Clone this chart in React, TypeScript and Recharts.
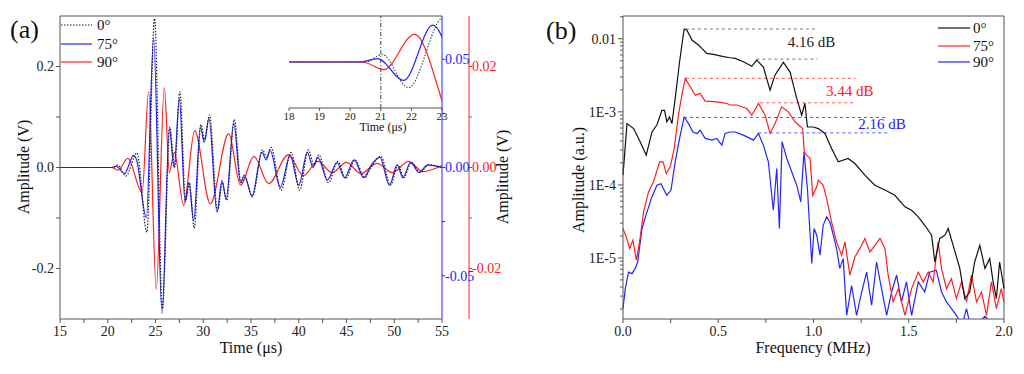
import React from "react";
import { LineChart, Line, XAxis, YAxis, ReferenceLine, ReferenceDot } from "recharts";

// (a) time signals, t in µs; each angle is plotted against its own axis (V)
const t0 = [15, 20.5, 21.05, 21.9, 23.05, 24.1, 24.9, 25.72, 26.5, 27.0, 27.55, 28.15, 28.55, 29.05, 29.75, 30.15, 30.65, 31.5, 32.0, 32.45, 33.25, 33.95, 34.35, 35.15, 36.2, 36.65, 37.1, 38.15, 39.2, 40.1, 41.0, 41.6, 42.1, 43.1, 44.1, 44.9, 45.9, 46.9, 47.7, 48.6, 49.6, 50.4, 51.0, 51.8, 52.7, 53.6, 55];
const v0 = [0, 0, 0.0049, -0.0168, 0.029, -0.128, 0.295, -0.28, 0.08, 0.0, 0.15, -0.065, -0.03, -0.12, 0.085, 0.055, 0.104, -0.085, -0.03, -0.065, 0.095, -0.03, -0.02, -0.058, 0.035, 0.02, 0.04, -0.045, 0.03, -0.045, 0.035, 0.005, 0.025, -0.03, 0.012, -0.022, 0.015, -0.02, 0.005, 0.022, -0.035, 0.005, -0.02, 0.01, -0.01, 0.005, 0];

const t75 = [15, 20.3, 20.9, 21.75, 22.7, 23.0, 24.04, 24.8, 25.68, 26.45, 26.95, 27.5, 28.1, 28.5, 29.0, 29.7, 30.1, 30.6, 31.44, 31.96, 32.4, 33.2, 33.9, 34.3, 35.1, 36.15, 36.6, 37.0, 38.07, 39.1, 40.0, 40.9, 41.5, 42.0, 43.0, 44.0, 44.8, 45.8, 46.8, 47.6, 48.5, 49.5, 50.3, 50.9, 51.7, 52.6, 53.5, 55];
const v75 = [0, 0, 0.0005, -0.0028, 0.0056, 0.0038, -0.0231, 0.0597, -0.0676, 0.018, 0, 0.0317, -0.0161, -0.007, -0.0245, 0.0186, 0.0117, 0.0226, -0.0207, -0.0061, -0.0145, 0.0205, -0.007, -0.0035, -0.0131, 0.007, 0.0035, 0.0079, -0.0091, 0.0056, -0.0082, 0.007, 0, 0.0047, -0.0058, 0.0023, -0.0047, 0.0035, -0.0047, 0.0012, 0.0047, -0.0082, 0.0012, -0.0047, 0.0023, -0.0023, 0.0012, 0];

const t90 = [15, 20.4, 21.1, 22.1, 23.6, 24.28, 25.08, 25.92, 26.45, 26.97, 27.95, 29.1, 30.74, 32.66, 33.9, 35.3, 36.85, 38.9, 40.5, 42.0, 43.5, 45.0, 46.5, 48.2, 49.8, 51.5, 53.0, 55];
const v90 = [0, 0, -0.0005, 0.0018, -0.0049, 0.015, -0.0241, 0.0158, -0.001, 0.003, -0.0075, 0.0073, -0.0072, 0.0067, -0.0035, 0.0022, -0.0032, 0.0025, -0.0016, 0.0012, -0.001, 0.001, -0.0012, 0.0008, -0.001, 0.0012, -0.0008, 0.0004];

const timeTicks = [15, 17.5, 20, 22.5, 25, 27.5, 30, 32.5, 35, 37.5, 40, 42.5, 45, 47.5, 50, 52.5, 55];
const insetTicks = [18, 19, 20, 21, 22, 23];

// (b) spectra, f in MHz
const f0 = [0, 0.021, 0.056, 0.09, 0.122, 0.152, 0.178, 0.204, 0.218, 0.23, 0.244, 0.257, 0.274, 0.297, 0.321, 0.335, 0.362, 0.396, 0.414, 0.44, 0.475, 0.527, 0.562, 0.589, 0.632, 0.676, 0.702, 0.737, 0.772, 0.798, 0.842, 0.877, 0.912, 0.938, 0.955, 0.968, 0.999, 1.025, 1.06, 1.095, 1.13, 1.182, 1.217, 1.27, 1.322, 1.375, 1.427, 1.48, 1.515, 1.55, 1.584, 1.62, 1.637, 1.663, 1.69, 1.707, 1.733, 1.768, 1.794, 1.82, 1.846, 1.873, 1.9, 1.925, 1.943, 1.96, 1.977, 2.0];
const a0 = [1.36e-4, 6.9e-4, 5.9e-4, 3.9e-4, 2.55e-4, 5.3e-4, 6.6e-4, 1.05e-3, 1.05e-3, 7.3e-4, 8.5e-4, 6.9e-4, 1.53e-3, 4.84e-3, 1.36e-2, 1.32e-2, 9.6e-3, 8.2e-3, 7.4e-3, 6.3e-3, 6.1e-3, 5.7e-3, 5.5e-3, 5.4e-3, 4.84e-3, 4.2e-3, 5.1e-3, 4.1e-3, 1.98e-3, 3.2e-3, 4.75e-3, 3.5e-3, 1.53e-3, 9.0e-4, 1.31e-3, 6.2e-4, 6.2e-4, 5.9e-4, 5.06e-4, 3.15e-4, 2.07e-4, 2.3e-4, 1.96e-4, 1.36e-4, 9.9e-5, 8.5e-5, 7.2e-5, 5.0e-5, 4.5e-5, 3.65e-5, 2.8e-5, 2.05e-5, 8.8e-6, 1.85e-5, 2.05e-5, 2.53e-5, 1.49e-5, 7.2e-6, 2.78e-6, 3.42e-6, 8.8e-6, 1.49e-5, 7.2e-6, 9.8e-6, 4.7e-6, 2.78e-6, 8.8e-6, 3.8e-6];

const f75 = [0, 0.017, 0.035, 0.052, 0.07, 0.087, 0.108, 0.134, 0.16, 0.192, 0.21, 0.227, 0.248, 0.269, 0.291, 0.309, 0.327, 0.353, 0.379, 0.405, 0.431, 0.475, 0.51, 0.545, 0.562, 0.597, 0.65, 0.676, 0.711, 0.746, 0.772, 0.798, 0.833, 0.868, 0.903, 0.943, 0.952, 0.964, 0.982, 0.996, 1.017, 1.025, 1.051, 1.069, 1.095, 1.121, 1.148, 1.165, 1.191, 1.217, 1.244, 1.27, 1.296, 1.322, 1.349, 1.375, 1.392, 1.418, 1.445, 1.48, 1.515, 1.55, 1.576, 1.602, 1.628, 1.654, 1.672, 1.698, 1.724, 1.75, 1.777, 1.803, 1.829, 1.856, 1.882, 1.908, 1.934, 1.96, 1.986, 2.0];
const a75 = [2.53e-5, 1.94e-5, 1.35e-5, 1.75e-5, 9.3e-6, 1.66e-5, 4.27e-5, 8.0e-5, 1.1e-4, 2.07e-4, 2.07e-4, 1.43e-4, 1.77e-4, 3.15e-4, 9.0e-4, 1.69e-3, 2.87e-3, 2.2e-3, 1.69e-3, 1.79e-3, 1.4e-3, 1.38e-3, 1.35e-3, 1.3e-3, 1.24e-3, 1.24e-3, 1.11e-3, 9.0e-4, 1.3e-3, 9.0e-4, 5.06e-4, 6.9e-4, 1.17e-3, 1.0e-3, 7.3e-4, 5.9e-4, 2.83e-4, 2.55e-4, 2.3e-4, 7.2e-5, 9.4e-5, 1.16e-4, 9.9e-5, 6.5e-5, 3.1e-5, 1.66e-5, 1.09e-5, 1.66e-5, 5.8e-6, 1.03e-5, 1.35e-5, 1.85e-5, 1.21e-5, 1.49e-5, 1.85e-5, 1.35e-5, 5.8e-6, 2.5e-6, 3.8e-6, 1.64e-6, 3.8e-6, 6.4e-6, 4.7e-6, 6.4e-6, 4.7e-6, 1.66e-5, 7.2e-6, 3.8e-6, 5.2e-6, 2.78e-6, 4.7e-6, 2.5e-6, 5.8e-6, 2.5e-6, 3.42e-6, 1.64e-6, 4.7e-6, 2.03e-6, 3.8e-6, 2.5e-6];

const f90 = [0, 0.012, 0.029, 0.047, 0.064, 0.077, 0.1, 0.126, 0.152, 0.178, 0.199, 0.23, 0.252, 0.274, 0.297, 0.321, 0.344, 0.367, 0.388, 0.405, 0.431, 0.466, 0.492, 0.519, 0.536, 0.562, 0.589, 0.632, 0.685, 0.711, 0.737, 0.763, 0.789, 0.807, 0.821, 0.835, 0.86, 0.886, 0.912, 0.933, 0.95, 0.968, 0.991, 1.003, 1.017, 1.034, 1.051, 1.069, 1.086, 1.104, 1.121, 1.138, 1.156, 1.174, 1.2, 1.226, 1.253, 1.279, 1.305, 1.331, 1.357, 1.384, 1.41, 1.436, 1.462, 1.488, 1.515, 1.55, 1.584, 1.61, 1.645, 1.672, 1.698, 1.724, 1.75, 1.78, 1.803, 1.83, 1.87, 1.9, 1.95, 2.0];
const a90 = [2.03e-6, 3.8e-6, 6.4e-6, 6.1e-6, 7.2e-6, 8.8e-6, 2.53e-5, 4.27e-5, 6.85e-5, 9.9e-5, 1.04e-4, 7.2e-5, 8.5e-5, 2.07e-4, 4.33e-4, 8.5e-4, 6.9e-4, 5.3e-4, 5.06e-4, 5.6e-4, 4.33e-4, 4.1e-4, 4.33e-4, 3.5e-4, 5.06e-4, 5.3e-4, 5.3e-4, 4.8e-4, 4.1e-4, 5.06e-4, 3.5e-4, 2.07e-4, 4.5e-5, 1.68e-4, 2.53e-5, 3.9e-4, 2.3e-4, 1.5e-4, 9.9e-5, 5.85e-5, 2.83e-4, 8.9e-5, 8.4e-6, 2.53e-5, 2.05e-5, 1.09e-5, 2.8e-5, 3.65e-5, 3.1e-5, 2.05e-5, 1.35e-5, 7.2e-6, 9.8e-6, 1.64e-6, 4.2e-6, 1.64e-6, 3.42e-6, 6.4e-6, 2.25e-6, 8.8e-6, 3.8e-6, 1.64e-6, 3.42e-6, 5.8e-6, 2.5e-6, 4.7e-6, 1.64e-6, 4.7e-6, 3.42e-6, 6.4e-6, 6.8e-6, 3.42e-6, 2.5e-6, 2.03e-6, 1.64e-6, 1.2e-6, 2.03e-6, 1.0e-6, 1.3e-6, 1.6e-6, 1.1e-6, 1.2e-6];

const freqTicks = [0, 0.25, 0.5, 0.75, 1, 1.25, 1.5, 1.75, 2];
const decadeTicks = [1e-5, 1e-4, 1e-3, 1e-2];
const decadeLabels = ["1E-5", "1E-4", "1E-3", "0.01"];

// dB drop markers: peak level, second level, and where the text sits
const dbLabels = ["4.16 dB", "3.44 dB", "2.16 dB"];
const dbColors = ["#777", "#ff5a5a", "#5a5aff"];
const dbTextColors = ["#222", "#ff2020", "#2020ff"];
const dbHigh = [0.0136, 2.87e-3, 8.37e-4];
const dbLow = [5.27e-3, 1.33e-3, 5.15e-4];
const dbHighFrom = [0.33, 0.33, 0.32];
const dbLowFrom = [0.7, 0.72, 0.71];
const dbTo = [1.02, 1.22, 1.39];
const dbTextF = [0.99, 1.19, 1.36];
const dbTextA = [9.0e-3, 1.92e-3, 6.8e-4];

const serif = '"Liberation Serif", "Times New Roman", serif';
const BLUE = "#2525ff";
const RED = "#ff2020";
const AXIS = "#555";

const pts = (xs: number[], ys: number[], k: string) => xs.map((x, i) => ({ [k]: x, v: ys[i] }));
const sig0 = pts(t0, v0, "t");
const sig75 = pts(t75, v75, "t");
const sig90 = pts(t90, v90, "t");
const sp0 = pts(f0, a0, "f");
const sp75 = pts(f75, a75, "f");
const sp90 = pts(f90, a90, "f");

const minorLog: number[] = [];
[1e-6, 1e-5, 1e-4, 1e-3, 1e-2].forEach((d) => {
  for (let m = 1; m <= 9; m++) {
    const v = d * m;
    if (v >= 1.46e-6 && v <= 0.0205) minorLog.push(v);
  }
});

function LogTick(props: any) {
  const { x, y, payload } = props;
  const i = decadeTicks.findIndex((d) => Math.abs(d - payload.value) / d < 1e-6);
  const major = i >= 0;
  return (
    <g>
      <line x1={x - (major ? 5 : 3)} x2={x} y1={y} y2={y} stroke={AXIS} />
      {major && (
        <text x={x - 7} y={y} dy="0.35em" textAnchor="end" fontSize={14} fill="#222" fontFamily={serif}>
          {decadeLabels[i]}
        </text>
      )}
    </g>
  );
}

const tickStyle = { fontSize: 14, fill: "#222" };

function SignalChart() {
  return (
    <LineChart width={520} height={374} margin={{ top: 16, right: 0, bottom: 0, left: 0 }}>
      <XAxis dataKey="t" type="number" domain={[15, 55]} ticks={timeTicks} interval={0}
        tickFormatter={(v) => (v % 5 === 0 ? String(v) : "")} height={55} stroke={AXIS}
        tick={tickStyle} tickSize={4} tickMargin={3} />
      <YAxis yAxisId="left" type="number" domain={[-0.3, 0.3]} ticks={[-0.2, -0.1, 0, 0.1, 0.2]} interval={0}
        tickFormatter={(v) => (v === 0 ? "0.0" : Math.abs(v) > 0.15 ? v.toFixed(1) : "")}
        width={60} stroke={AXIS} tick={tickStyle} tickSize={4} tickMargin={2} />
      <YAxis yAxisId="blue" orientation="right" type="number" domain={[-0.07, 0.07]}
        ticks={[-0.05, -0.025, 0, 0.025, 0.05]} interval={0}
        tickFormatter={(v) => (Math.abs(v) < 1e-9 || Math.abs(Math.abs(v) - 0.05) < 1e-9 ? v.toFixed(2) : "")}
        width={27} stroke={BLUE} tick={{ fontSize: 14, fill: BLUE }} tickSize={3} tickMargin={0} />
      <YAxis yAxisId="red" orientation="right" type="number" domain={[-0.03, 0.03]}
        ticks={[-0.02, -0.01, 0, 0.01, 0.02]} interval={0}
        tickFormatter={(v) => (Math.abs(v) < 1e-9 || Math.abs(Math.abs(v) - 0.02) < 1e-9 ? v.toFixed(2) : "")}
        width={51} stroke={RED} tick={{ fontSize: 14, fill: RED }} tickSize={3} tickMargin={0} />
      <ReferenceLine yAxisId="left" y={0.3} stroke={AXIS} />
      <Line yAxisId="red" data={sig90} dataKey="v" type="monotone" stroke={RED} strokeWidth={1.2} dot={false} isAnimationActive={false} />
      <Line yAxisId="blue" data={sig75} dataKey="v" type="monotone" stroke={BLUE} strokeWidth={1.2} dot={false} isAnimationActive={false} />
      <Line yAxisId="left" data={sig0} dataKey="v" type="monotone" stroke="#222" strokeWidth={1.2} strokeDasharray="1.5 1.5" dot={false} isAnimationActive={false} />
    </LineChart>
  );
}

function InsetChart() {
  return (
    <LineChart width={190} height={140} margin={{ top: 16, right: 18, bottom: 0, left: 0 }}>
      <XAxis dataKey="t" type="number" domain={[18, 23]} ticks={insetTicks} interval={0} allowDataOverflow
        height={32} stroke={AXIS} tick={{ fontSize: 11, fill: "#222" }} tickSize={3} tickMargin={1} />
      <YAxis yAxisId="k" type="number" domain={[-0.03, 0.03]} ticks={[-0.02, 0, 0.02]} interval={0} allowDataOverflow
        width={19} stroke={AXIS} tick={() => <g />} tickSize={-4} />
      <YAxis yAxisId="b" hide type="number" domain={[-0.007, 0.007]} allowDataOverflow />
      <YAxis yAxisId="r" hide type="number" domain={[-0.003, 0.003]} allowDataOverflow />
      <ReferenceLine yAxisId="k" x={21} stroke="#444" strokeDasharray="4 2 1 2" />
      <Line yAxisId="r" data={sig90} dataKey="v" type="monotone" stroke={RED} strokeWidth={1.2} dot={false} isAnimationActive={false} />
      <Line yAxisId="b" data={sig75} dataKey="v" type="monotone" stroke={BLUE} strokeWidth={1.2} dot={false} isAnimationActive={false} />
      <Line yAxisId="k" data={sig0} dataKey="v" type="monotone" stroke="#444" strokeWidth={1.1} strokeDasharray="1.5 1.5" dot={false} isAnimationActive={false} />
    </LineChart>
  );
}

function SpectrumChart() {
  return (
    <LineChart width={504} height={374} margin={{ top: 16, right: 20, bottom: 0, left: 0 }}>
      <XAxis dataKey="f" type="number" domain={[0, 2]} ticks={freqTicks} interval={0}
        tickFormatter={(v) => (v % 0.5 === 0 ? v.toFixed(1) : "")} height={55} stroke={AXIS}
        tick={tickStyle} tickSize={4} tickMargin={3} />
      <YAxis type="number" scale="log" domain={[1.46e-6, 0.0205]} allowDataOverflow ticks={minorLog} interval={0}
        tick={<LogTick />} tickLine={false} tickSize={0} tickMargin={0} width={103} stroke={AXIS} />
      <ReferenceLine y={0.0205} stroke={AXIS} />
      <ReferenceLine x={2} stroke={AXIS} />
      {dbLabels.map((lab, i) => (
        <ReferenceLine key={lab + "h"} segment={[{ x: dbHighFrom[i], y: dbHigh[i] }, { x: dbTo[i], y: dbHigh[i] }]}
          stroke={dbColors[i]} strokeDasharray="3 3" />
      ))}
      {dbLabels.map((lab, i) => (
        <ReferenceLine key={lab + "l"} segment={[{ x: dbLowFrom[i], y: dbLow[i] }, { x: dbTo[i], y: dbLow[i] }]}
          stroke={dbColors[i]} strokeDasharray="3 3" />
      ))}
      <Line data={sp90} dataKey="v" type="linear" stroke={BLUE} strokeWidth={1.2} dot={false} isAnimationActive={false} />
      <Line data={sp75} dataKey="v" type="linear" stroke={RED} strokeWidth={1.2} dot={false} isAnimationActive={false} />
      <Line data={sp0} dataKey="v" type="linear" stroke="#111" strokeWidth={1.2} dot={false} isAnimationActive={false} />
      {dbLabels.map((lab, i) => (
        <ReferenceDot key={lab} x={dbTextF[i]} y={dbTextA[i]} r={0} fill="none" stroke="none"
          label={{ value: lab, position: "center", fill: dbTextColors[i], fontSize: 15, fontFamily: serif }} />
      ))}
    </LineChart>
  );
}

function Texts() {
  const legendA = [
    { y: 25, label: "0°", color: "#222", dash: "1.5 1.5" },
    { y: 44, label: "75°", color: BLUE, dash: undefined },
    { y: 62, label: "90°", color: RED, dash: undefined },
  ];
  const legendB = [
    { y: 28, label: "0°", color: "#111" },
    { y: 46, label: "75°", color: RED },
    { y: 62, label: "90°", color: BLUE },
  ];
  return (
    <svg width={1024} height={374} style={{ position: "absolute", left: 0, top: 0, pointerEvents: "none" }}
      fontFamily={serif} fill="#111">
      <text x={10} y={38} fontSize={26}>(a)</text>
      <text x={546} y={39} fontSize={26}>(b)</text>
      <text transform="translate(29,167) rotate(-90)" textAnchor="middle" fontSize={16}>Amplitude (V)</text>
      <text transform="translate(508,177) rotate(-90)" textAnchor="middle" fontSize={16}>Amplitude (V)</text>
      <text transform="translate(584,180) rotate(-90)" textAnchor="middle" fontSize={16}>Amplitude (a.u.)</text>
      <text x={251} y={353} textAnchor="middle" fontSize={16}>Time (μs)</text>
      <text x={813} y={353} textAnchor="middle" fontSize={16}>Frequency (MHz)</text>
      <text x={383} y={131} textAnchor="middle" fontSize={12}>Time (μs)</text>
      {legendA.map((l) => (
        <g key={l.label}>
          <line x1={61} x2={92} y1={l.y} y2={l.y} stroke={l.color} strokeWidth={1.2} strokeDasharray={l.dash} />
          <text x={97} y={l.y + 5} fontSize={15}>{l.label}</text>
        </g>
      ))}
      {legendB.map((l) => (
        <g key={l.label}>
          <line x1={938} x2={970} y1={l.y} y2={l.y} stroke={l.color} strokeWidth={1.2} />
          <text x={973} y={l.y + 5} fontSize={15}>{l.label}</text>
        </g>
      ))}
    </svg>
  );
}

export default function App() {
  return (
    <div style={{ position: "absolute", left: 0, top: 0, width: 1024, height: 374, background: "#fff", fontFamily: serif }}>
      <div style={{ position: "absolute", left: 0, top: 0 }}>
        <SignalChart />
      </div>
      <div style={{ position: "absolute", left: 270, top: 0 }}>
        <InsetChart />
      </div>
      <div style={{ position: "absolute", left: 520, top: 0 }}>
        <SpectrumChart />
      </div>
      <Texts />
    </div>
  );
}
